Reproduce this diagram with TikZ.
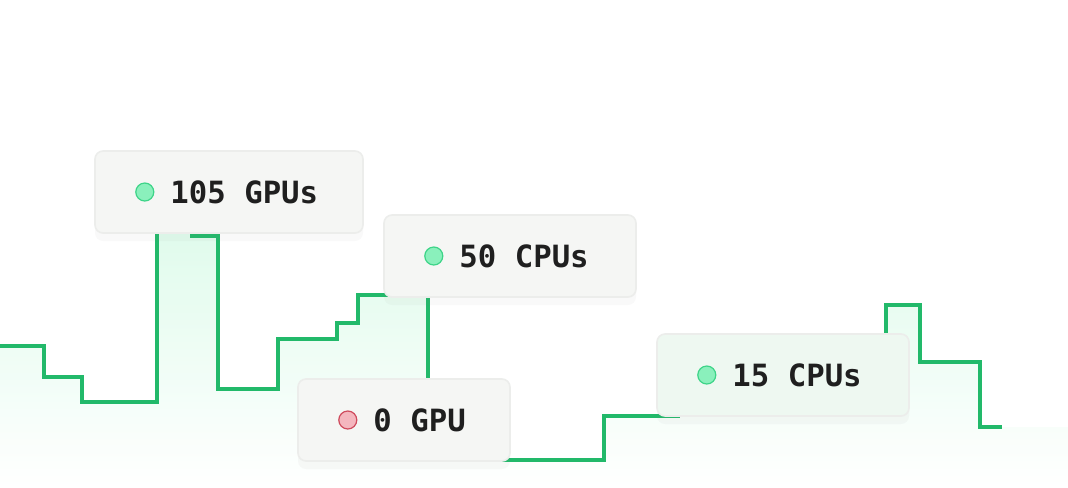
\documentclass[tikz,border=0pt]{standalone}
\usepackage{fontspec}
\setmonofont{DejaVu Sans Mono}
\usetikzlibrary{positioning, shadows}
\definecolor{stepgreen}{HTML}{22B96A}
\definecolor{mint}{HTML}{DDFBEA}
\definecolor{boxfill}{HTML}{F5F6F4}
\definecolor{boxline}{HTML}{ECEDEB}
\definecolor{dotgreen}{HTML}{8AF0BC}
\definecolor{dotgreenline}{HTML}{3DD488}
\definecolor{dotred}{HTML}{F4B6BE}
\definecolor{dotredline}{HTML}{CF4A5C}
\tikzset{
  box/.style={draw=boxline, line width=1.2pt, fill=boxfill, rounded corners=6pt,
    minimum height=61.5pt, inner sep=0pt,
    drop shadow={opacity=0.05, shadow xshift=0pt, shadow yshift=-6pt}},
  dot/.style={circle, minimum size=13.5pt, inner sep=0pt, line width=0.9pt},
  okdot/.style={dot, draw=dotgreenline, fill=dotgreen},
  offdot/.style={dot, draw=dotredline, fill=dotred},
  amount/.style={inner sep=0pt, anchor=west, font=\fontsize{23pt}{26pt}\ttfamily\bfseries, text=black!88},
  steps/.style={stepgreen, line width=2.7pt}
}
\begin{document}
\begin{tikzpicture}[x=0.75pt, y=-0.75pt]
  \useasboundingbox (0,0) rectangle (1068,487);
  % shaded area under the steps
  \shade[top color=mint, bottom color=white, opacity=0.9]
    (0,346) -| (44,377) -| (82,402) -| (157,234) -| (218,389) -| (278,339)
    -| (337,323) -| (358,295) -| (428,460) -| (604,416) -| (886,305)
    -| (920,362) -| (980,427) -- (1068,427) -- (1068,487) -- (0,487) -- cycle;
  % step line
  \draw[steps] (0,346) -| (44,377) -| (82,402) -| (157,234);
  \draw[steps] (190,236) -| (218,389) -| (278,339) -| (337,323) -| (358,295) -- (400,295);
  \draw[steps] (428,290) -- (428,390);
  \draw[steps] (500,460) -| (604,416) -- (680,416);
  \draw[steps] (886,340) |- (920,305) |- (980,362) |- (1002,427);
  % labels
  \node[box, minimum width=201pt] (gpuBox) at (229,192) {};
  \node[okdot, right=30.75pt of gpuBox.west] (gpuDot) {};
  \node[amount, right=57pt of gpuBox.west] (gpuText) {105 GPUs};

  \node[box, minimum width=189pt] (cpuBox) at (510,256) {};
  \node[okdot, right=30.75pt of cpuBox.west] (cpuDot) {};
  \node[amount, right=57pt of cpuBox.west] (cpuText) {50 CPUs};

  \node[box, minimum width=159pt] (idleBox) at (404,420) {};
  \node[offdot, right=30.75pt of idleBox.west] (idleDot) {};
  \node[amount, right=57pt of idleBox.west] (idleText) {0 GPU};

  \node[box, minimum width=189pt, fill=boxfill!70!mint] (lowBox) at (783,375) {};
  \node[okdot, right=30.75pt of lowBox.west] (lowDot) {};
  \node[amount, right=57pt of lowBox.west] (lowText) {15 CPUs};
\end{tikzpicture}
\end{document}
